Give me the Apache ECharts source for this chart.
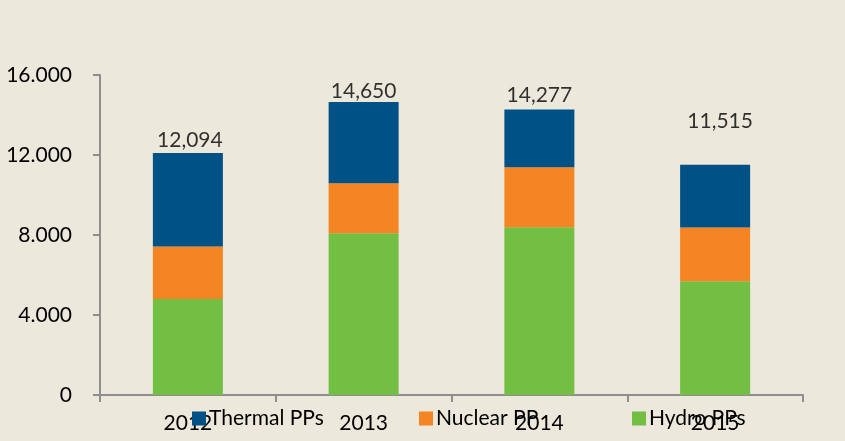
<!DOCTYPE html>
<html>
<head>
<meta charset="utf-8">
<script src="https://cdn.jsdelivr.net/npm/echarts@6/dist/echarts.min.js"></script>
<style>
  html, body { margin: 0; padding: 0; background: #ECE8DB; }
  #chart { width: 845px; height: 441px; }
</style>
</head>
<body>
<div id="chart"></div>
<script>
const years = ['2012', '2013', '2014', '2015'];
const hydro = [4800, 8090, 8390, 5690];
const nuclear = [2620, 2500, 3000, 2680];
const thermal = [4674, 4060, 2887, 3145];
const totals = [12094, 14650, 14277, 11515];
const yTicks = [0, 4000, 8000, 12000, 16000];

const colors = { thermal: '#005185', nuclear: '#F58523', hydro: '#72BF44' };
const font = 'Lato, "Liberation Sans", sans-serif';
const axisGrey = '#8E8E8E';
const textColor = '#000';

// label nudges so the totals sit where the original has them
const totalOffsets = [[2, -2], [0, 0], [0, -4], [5, -33]];

const chart = echarts.init(document.getElementById('chart'));

function barSeries(name, data, color) {
    return {
        name: name,
        type: 'bar',
        stack: 'total',
        barWidth: 70,
        data: data,
        itemStyle: { color: color },
        emphasis: { disabled: true }
    };
}

function legendAt(name, left) {
    return {
        data: [name],
        left: left,
        top: 403,
        itemWidth: 14,
        itemHeight: 14,
        itemGap: 6,
        icon: 'rect',
        selectedMode: false,
        textStyle: { fontFamily: font, fontSize: 21, color: textColor, padding: [0, 0, 0, -2] }
    };
}

const option = {
    backgroundColor: '#ECE8DB',
    animation: false,
    grid: { left: 100, top: 75, right: 42, bottom: 46 },
    legend: [
        legendAt('Thermal PPs', 187),
        legendAt('Nuclear PP', 414),
        legendAt('Hydro PPs', 627)
    ],
    xAxis: {
        type: 'category',
        data: years,
        boundaryGap: true,
        axisLine: { lineStyle: { color: axisGrey, width: 2 } },
        axisTick: { show: true, length: 7, alignWithLabel: false, lineStyle: { color: axisGrey, width: 2 } },
        axisLabel: { margin: 18, fontFamily: font, fontSize: 21, color: textColor },
        splitLine: { show: false }
    },
    yAxis: {
        type: 'value',
        min: yTicks[0],
        max: yTicks[yTicks.length - 1],
        interval: yTicks[1] - yTicks[0],
        axisLine: { show: true, lineStyle: { color: axisGrey, width: 2 } },
        axisTick: { show: true, length: 7, lineStyle: { color: axisGrey, width: 2 } },
        axisLabel: {
            margin: 28,
            fontFamily: font,
            fontSize: 21,
            color: textColor,
            formatter: v => v === 0 ? '0' : (v / 1000) + '.000'
        },
        splitLine: { show: false }
    },
    series: [
        barSeries('Hydro PPs', hydro, colors.hydro),
        barSeries('Nuclear PP', nuclear, colors.nuclear),
        barSeries('Thermal PPs', thermal, colors.thermal),
        {
            name: 'Total',
            type: 'scatter',
            symbolSize: 0,
            silent: true,
            data: totals.map((v, i) => ({
                value: v,
                label: { offset: totalOffsets[i] }
            })),
            label: {
                show: true,
                position: 'top',
                distance: 0,
                fontFamily: font,
                fontSize: 21,
                color: textColor,
                formatter: p => p.value.toLocaleString('en-US')
            }
        }
    ]
};

chart.setOption(option);
</script>
</body>
</html>
